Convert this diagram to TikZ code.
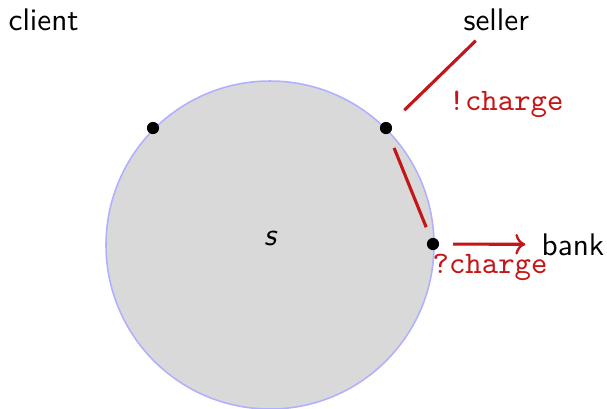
\documentclass[tikz,border=0pt]{standalone}
\usetikzlibrary{arrows.meta}
\definecolor{msgred}{RGB}{196,22,24}
\definecolor{rimblue}{RGB}{176,176,255}
\definecolor{procgray}{RGB}{217,217,217}
\begin{document}
\begin{tikzpicture}[x=0.32pt,y=-0.32pt,
  lbl/.style={inner sep=0pt,anchor=base west,font=\sffamily},
  msg/.style={inner sep=0pt,anchor=base west,font=\ttfamily,text=msgred},
  dotnode/.style={circle,fill=black,inner sep=0pt,minimum size=3.9pt},
  redline/.style={draw=msgred,line width=1pt}]
\useasboundingbox (0,0) rectangle (607,408);
% process circle
\draw[rimblue,fill=procgray,line width=0.5pt] (270,245) circle[radius=164];
\node[inner sep=0pt,anchor=base,font=\sffamily\itshape] (s) at (270,245) {s};
% ports
\node[dotnode] (cd) at (153,128) {};
\node[dotnode] (sd) at (386,128) {};
\node[dotnode] (bd) at (433,244) {};
% labels
\node[lbl] (client) at (8,30) {client};
\node[lbl] (seller) at (463,30) {seller};
\node[lbl] (bank) at (541,255) {bank};
\node[msg] (send) at (448,110) {!charge};
\node[msg] (recv) at (432,273) {?charge};
% connectors
\coordinate (sellertip) at (497,20);
\draw[redline,shorten <=8.2pt,shorten >=9.5pt] (sd.center) -- (sellertip);
\draw[redline,shorten <=6.9pt,shorten >=5.8pt] (sd.center) -- (bd.center);
\draw[redline,-{To[length=3.2pt,width=6.6pt,line width=0.75pt]},shorten <=6.4pt,shorten >=5pt] (bd.center) -- (bank.west);
\end{tikzpicture}
\end{document}
